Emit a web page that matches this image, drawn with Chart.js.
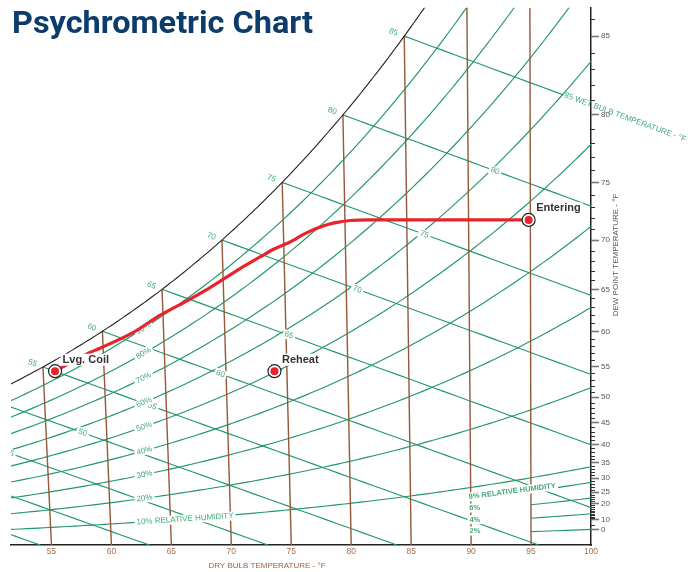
<!DOCTYPE html>
<html>
<head>
<meta charset="utf-8">
<title>Psychrometric Chart</title>
<script src="https://cdn.jsdelivr.net/npm/chart.js@4.4.0/dist/chart.umd.min.js"></script>
<style>
  body { margin: 0; background: #fff; }
  #wrap { width: 691px; height: 572px; }
</style>
</head>
<body>
<div id="wrap"><canvas id="graf" width="691" height="572"></canvas></div>
<script>
// values
var xTicks = [55, 60, 65, 70, 75, 80, 85, 90, 95, 100];
var dryBulb = [55, 60, 65, 70, 75, 80, 85, 90, 95];
var dewLabels = [85, 80, 75, 70, 65, 60, 55, 50, 45, 40, 35, 30, 25, 20, 10, 0];
var rhLevels = [10, 20, 30, 40, 50, 60, 70, 80, 90];
var rhLow = [2, 4, 6, 8];
var wetBulb = [35, 40, 45, 50, 55, 60, 65, 70, 75, 80, 85];
var wbSatLabels = [55, 60, 65, 70, 75, 80, 85];
var wbMid = [45, 50, 55, 60, 65, 70, 75, 80];
var wbMidAt = [51.5, 57.6, 63.4, 69.1, 74.8, 80.5, 86.1, 92.0];

// process line: dry bulb on the axis (°F), humidity ratio (lb/lb)
var procT = [94.8, 81.5, 79.9, 79.0, 78.2, 77.2, 76.1, 74.9, 73.6, 72.4, 70.7, 69.5, 68.2, 66.3, 64.0, 61.8, 59.0, 58.0, 55.3];
var procW = [0.01676, 0.01676, 0.01673, 0.01665, 0.01655, 0.01634, 0.01604, 0.01562, 0.01527, 0.01485, 0.01424, 0.01377, 0.01326, 0.01259, 0.01182, 0.01095, 0.01013, 0.00987, 0.00896];
var pointNames = ["Entering", "Lvg. Coil", "Reheat"];
var pointT = [94.8, 55.3, 73.6];
var pointW = [0.01676, 0.00896, 0.00896];

var wTop = 0.0277;
var xMin = 51.625;

// psychrometrics (sea level)
var P = 14.696;
function pSat(t) {
  var c = (t - 32) / 1.8;
  var hpa = c >= 0 ? 6.112 * Math.exp(17.62 * c / (243.12 + c)) : 6.112 * Math.exp(22.46 * c / (272.62 + c));
  return hpa * 0.0145038;
}
function wRh(t, rh) {
  var pw = rh / 100 * pSat(t);
  return 0.622 * pw / (P - pw);
}
function wSat(t) { return wRh(t, 100); }
function wWb(t, twb) {
  return ((1093 - 0.556 * twb) * wSat(twb) - 0.24 * (t - twb)) / (1093 + 0.444 * t - twb);
}
// chart x position (dry bulb lines lean a little)
function plotX(t, w) { return t + w * (0.444 * t - 43) / 0.24; }

var GREEN = "#22976a";
var GREEN_TXT = "#45a97a";
var BROWN = "#94593a";
var RED = "#e8232b";

function line(points, color, width, order) {
  return { data: points, showLine: true, pointRadius: 0, borderColor: color, borderWidth: width, order: order, tension: 0, fill: false };
}

var datasets = [];

// dry bulb
dryBulb.forEach(function (t) {
  var wEnd = Math.min(wSat(t), wTop);
  datasets.push(line([{ x: plotX(t, 0), y: 0 }, { x: plotX(t, wEnd), y: wEnd }], BROWN, 1.4, 10));
});

// relative humidity
rhLevels.forEach(function (rh) {
  var pts = [];
  for (var t = 44; t <= 101; t += 0.5) {
    var w = wRh(t, rh);
    pts.push({ x: plotX(t, w), y: w });
  }
  datasets.push(line(pts, GREEN, 1.15, 10));
});
rhLow.forEach(function (rh) {
  var pts = [];
  var start = rh == 8 ? 90 : 95;
  for (var t = start; t <= 101; t += 1) {
    var w = wRh(t, rh);
    pts.push({ x: plotX(t, w), y: w });
  }
  datasets.push(line(pts, GREEN, 1.15, 10));
});

// wet bulb
wetBulb.forEach(function (twb) {
  var pts = [];
  var tZero = twb + (1093 - 0.556 * twb) * wSat(twb) / 0.24;
  var tEnd = twb == 85 ? 97.67 : Math.min(tZero, 101);
  for (var t = twb; t < tEnd; t += 1) {
    var w = wWb(t, twb);
    pts.push({ x: plotX(t, w), y: w });
  }
  var we = Math.max(wWb(tEnd, twb), 0);
  pts.push({ x: plotX(tEnd, we), y: we });
  datasets.push(line(pts, GREEN, 1.15, 10));
});

// saturation
var sat = [];
for (var t = 48; t <= 90; t += 0.25) {
  var w = wSat(t);
  sat.push({ x: plotX(t, w), y: w });
}
datasets.push(line(sat, "#222", 1.1, 9));

// process
var procIndex = datasets.length;
datasets.push({
  data: procT.map(function (v, i) { return { x: v, y: procW[i] }; }),
  showLine: true, pointRadius: 0, borderColor: RED, borderWidth: 3.2, tension: 0.3, order: 3,
  borderCapStyle: "round", borderJoinStyle: "round"
});
datasets.push({
  data: pointT.map(function (v, i) { return { x: v, y: pointW[i] }; }),
  showLine: false, pointRadius: 6.5, pointBackgroundColor: "#fff", pointBorderColor: "#222", pointBorderWidth: 1.2, order: 2
});
datasets.push({
  data: pointT.map(function (v, i) { return { x: v, y: pointW[i] }; }),
  showLine: false, pointRadius: 4, pointBackgroundColor: RED, pointBorderWidth: 0, order: 1
});

function text(ctx, s, x, y, ang, font, color, align, bg) {
  ctx.save();
  ctx.translate(x, y);
  ctx.rotate(ang);
  ctx.font = font;
  ctx.textAlign = align;
  ctx.textBaseline = "middle";
  if (bg) {
    var w = ctx.measureText(s).width;
    var x0 = align == "left" ? 0 : -w / 2;
    ctx.fillStyle = "#fff";
    ctx.fillRect(x0 - 2, -bg / 2, w + 4, bg);
  }
  ctx.fillStyle = color;
  ctx.fillText(s, 0, 0);
  ctx.restore();
}

// find the real temperature whose point lands on chart x = target
function solveT(target, fw) {
  var t = target;
  for (var k = 0; k < 6; k++) t += target - plotX(t, fw(t));
  return t;
}

var labels = {
  id: "labels",
  beforeDatasetDraw: function (chart, args) {
    if (args.index != procIndex) return;
    var ctx = chart.ctx, sx = chart.scales.x, sy = chart.scales.y, a = chart.chartArea;
    function px(t, w) { return [sx.getPixelForValue(plotX(t, w)), sy.getPixelForValue(w)]; }
    function ang(fw, t) {
      var p1 = px(t - 0.5, fw(t - 0.5)), p2 = px(t + 0.5, fw(t + 0.5));
      return Math.atan2(p2[1] - p1[1], p2[0] - p1[0]);
    }
    var f8 = "8px 'Liberation Sans', Arial, sans-serif";
    var f8b = "bold 7.5px 'Liberation Sans', Arial, sans-serif";

    // wet bulb labels along the saturation curve
    wbSatLabels.forEach(function (twb) {
      var fw = function (t) { return wWb(t, twb); };
      var t = twb - 0.85;
      var p = px(t, fw(t));
      text(ctx, String(twb), p[0], p[1], ang(fw, t), f8, GREEN_TXT, "center", 0);
    });
    var fw85 = function (t) { return wWb(t, 85); };
    var p85 = px(97.67, fw85(97.67));
    text(ctx, "85 WET BULB TEMPERATURE - °F", p85[0] + 1, p85[1], ang(fw85, 97.67), f8, GREEN_TXT, "left", 0);

    // labels in the middle of wet bulb lines
    ctx.save();
    ctx.beginPath();
    ctx.rect(a.left, a.top, a.right - a.left, a.bottom - a.top);
    ctx.clip();
    wbMid.forEach(function (twb, i) {
      var fw = function (t) { return wWb(t, twb); };
      var t = solveT(wbMidAt[i], fw);
      var p = px(t, fw(t));
      text(ctx, String(twb), p[0], p[1], ang(fw, t), f8, GREEN_TXT, "center", 9);
    });
    ctx.restore();

    // relative humidity labels
    rhLevels.forEach(function (rh) {
      var fw = function (t) { return wRh(t, rh); };
      var t = solveT(62.1, fw);
      var p = px(t, fw(t));
      var s = rh == 10 ? "10% RELATIVE HUMIDITY" : rh + "%";
      text(ctx, s, p[0], p[1], ang(fw, t), f8, GREEN_TXT, "left", 9);
    });
    var fw8 = function (t) { return wRh(t, 8); };
    var p8 = px(90, fw8(90));
    text(ctx, "8% RELATIVE HUMIDITY", p8[0] - 2, p8[1] - 2, ang(fw8, 93), f8b, GREEN_TXT, "left", 9);
    [6, 4, 2].forEach(function (rh) {
      var p = px(90, wRh(90, rh));
      text(ctx, rh + "%", p[0] - 1.5, p[1] - 2.5, 0, f8b, GREEN_TXT, "left", 9);
    });
  },
  afterDatasetsDraw: function (chart) {
    var ctx = chart.ctx, sx = chart.scales.x, sy = chart.scales.y, a = chart.chartArea;
    // process point names
    pointNames.forEach(function (n, i) {
      var x = sx.getPixelForValue(pointT[i]), y = sy.getPixelForValue(pointW[i]);
      text(ctx, n, x + 7.5, y - 11.5, 0, "bold 11px 'Liberation Sans', Arial, sans-serif", "#333", "left", 12);
    });
    // minor ticks on dew point axis
    ctx.save();
    ctx.strokeStyle = "#333";
    ctx.lineWidth = 1;
    for (var d = 5; d <= 86; d++) {
      if (dewLabels.indexOf(d) >= 0) continue;
      if (d < 10 && d != 5) continue;
      var y = Math.round(sy.getPixelForValue(wSat(d))) + 0.5;
      ctx.beginPath();
      ctx.moveTo(a.right, y);
      ctx.lineTo(a.right + 4, y);
      ctx.stroke();
    }
    ctx.restore();
    // axis titles
    text(ctx, "DRY BULB TEMPERATURE - °F", 267, 566, 0, "8px 'Liberation Sans', Arial, sans-serif", "#9a6444", "center", 0);
    text(ctx, "DEW POINT TEMPERATURE - °F", 616, 255, -Math.PI / 2, "8px 'Liberation Sans', Arial, sans-serif", "#555", "center", 0);
    // title
    ctx.save();
    ctx.font = "bold 31px Roboto, 'Liberation Sans', sans-serif";
    var tw = ctx.measureText("Psychrometric Chart").width;
    ctx.translate(12, 33);
    ctx.scale(301 / tw, 1);
    ctx.fillStyle = "#0b3c6b";
    ctx.textBaseline = "alphabetic";
    ctx.fillText("Psychrometric Chart", 0, 0);
    ctx.restore();
  }
};

Chart.defaults.font.family = "'Liberation Sans', Arial, sans-serif";

var graf = document.getElementById("graf").getContext("2d");
var chart = new Chart(graf, {
  type: "scatter",
  data: { datasets: datasets },
  options: {
    responsive: false,
    animation: false,
    layout: { padding: { left: 11, top: 7, right: 0, bottom: 0 } },
    plugins: { legend: { display: false }, tooltip: { enabled: false }, title: { display: false } },
    scales: {
      x: {
        type: "linear", min: xMin, max: 100,
        afterBuildTicks: function (s) { s.ticks = xTicks.map(function (v) { return { value: v }; }); },
        ticks: { color: "#a5704f", font: { size: 8.5 }, padding: 2, autoSkip: false, maxRotation: 0 },
        grid: { display: false, drawTicks: false },
        border: { display: true, color: "#222", width: 1.5 },
        afterFit: function (s) { s.height = 27; }
      },
      y: {
        type: "linear", position: "right", min: 0, max: wTop,
        afterBuildTicks: function (s) { s.ticks = dewLabels.map(function (d) { return { value: wSat(d) }; }); },
        ticks: { color: "#555", font: { size: 8 }, padding: 2, autoSkip: false,
          callback: function (v, i) { return dewLabels[i]; } },
        grid: { display: true, drawOnChartArea: false, drawTicks: true, tickLength: 8, tickColor: "#777", tickWidth: 1.6 },
        border: { display: true, color: "#222", width: 1.5 },
        afterFit: function (s) { s.width = 100; }
      }
    }
  },
  plugins: [labels]
});
</script>
</body>
</html>
